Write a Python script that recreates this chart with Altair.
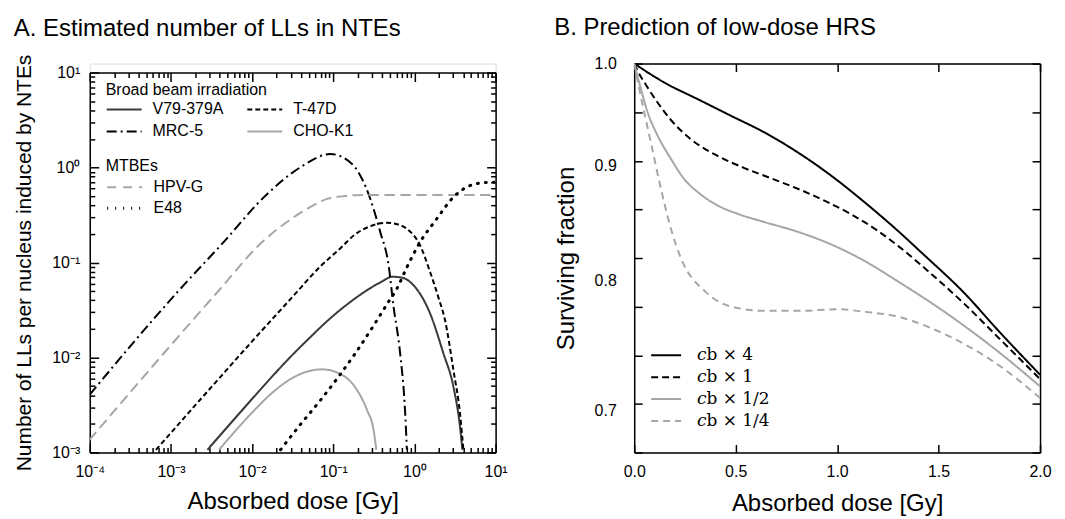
import altair as alt
import pandas as pd

FONT = "Liberation Sans"

# ---------------- Panel A: number of LLs per nucleus induced by NTEs ----------------
v79_dose = [2.818e-3, 6.310e-3, 0.01259, 0.02704, 0.05012, 0.1, 0.1778, 0.2858, 0.3981, 0.5272, 0.7079, 0.9750, 1.560, 2.275, 3.020, 3.639, 3.899]
v79_n = [1.067e-3, 2.344e-3, 4.571e-3, 9.333e-3, 0.01585, 0.02754, 0.04074, 0.05370, 0.06310, 0.07079, 0.06918, 0.05754, 0.02904, 0.01104, 4.932e-3, 1.875e-3, 1.067e-3]

t47d_dose = [6.531e-4, 3.162e-3, 0.01, 0.03162, 0.0695, 0.1259, 0.1786, 0.2818, 0.4581, 0.631, 0.8072, 1.175, 1.560, 1.995, 2.382, 3.020, 3.639, 4.009]
t47d_n = [1.067e-3, 4.898e-3, 0.01479, 0.04365, 0.09120, 0.1445, 0.1928, 0.2399, 0.2618, 0.2512, 0.2265, 0.1514, 0.07943, 0.04169, 0.02472, 7.379e-3, 2.588e-3, 1.067e-3]

mrc5_dose = [1e-4, 1.205e-3, 4.10e-3, 0.01538, 0.03945, 0.0920, 0.1702, 0.2858, 0.3793, 0.4808, 0.5534, 0.6668, 0.7691, 0.8072]
mrc5_n = [4.074e-3, 0.04898, 0.1517, 0.5272, 1.007, 1.387, 1.089, 0.4677, 0.2089, 0.09354, 0.03412, 0.01104, 2.588e-3, 1.074e-3]

chok1_dose = [3.917e-3, 0.01, 0.01778, 0.02704, 0.04335, 0.07278, 0.1222, 0.1959, 0.2600, 0.3162, 0.3388]
chok1_n = [1.067e-3, 2.630e-3, 4.266e-3, 5.623e-3, 6.918e-3, 7.499e-3, 6.699e-3, 4.550e-3, 2.805e-3, 1.660e-3, 1.067e-3]

hpvg_dose = [1e-4, 1e-3, 3.917e-3, 0.01274, 0.03273, 0.05623, 0.08395, 0.1413, 0.2371, 1.0, 10.0]
hpvg_n = [1.368e-3, 0.01349, 0.05105, 0.1585, 0.3006, 0.3981, 0.4677, 0.5012, 0.5152, 0.5152, 0.5152]

e48_dose = [0.02239, 0.03981, 0.0695, 0.1122, 0.1786, 0.3162, 0.4581, 0.6081, 0.8072, 1.175, 1.884, 3.020, 4.831, 7.079, 10.0]
e48_n = [1.067e-3, 1.995e-3, 3.548e-3, 6.026e-3, 0.01047, 0.02188, 0.03631, 0.05309, 0.08913, 0.1641, 0.2884, 0.4875, 0.6457, 0.6918, 0.6998]

broad_names = ["V79-379A", "MRC-5", "T-47D", "CHO-K1"]
broad_colors = ["#3a3a3a", "#000000", "#000000", "#a6a6a6"]
broad_dashes = [[1, 0], [10, 4, 2, 4], [5, 3], [1, 0]]
mtbe_names = ["HPV-G", "E48"]
mtbe_colors = ["#a6a6a6", "#000000"]
mtbe_dashes = [[9, 7], [1, 7]]
mtbe_widths = [2, 3]

xa_major = [1e-4, 1e-3, 1e-2, 1e-1, 1, 10]
ya_major = [1e-3, 1e-2, 1e-1, 1, 10]
xa_sup = ["\u207b\u2074", "\u207b\u00b3", "\u207b\u00b2", "\u207b\u00b9", "\u2070", "\u00b9"]
ya_sup = ["\u207b\u00b3", "\u207b\u00b2", "\u207b\u00b9", "\u2070", "\u00b9"]

# ---------------- Panel B: surviving fraction ----------------
sf_names = ["\U0001D450b \u00d7 4", "\U0001D450b \u00d7 1", "\U0001D450b \u00d7 1/2", "\U0001D450b \u00d7 1/4"]
sf_colors = ["#000000", "#000000", "#a6a6a6", "#a6a6a6"]
sf_dashes = [[1, 0], [7, 4], [1, 0], [7, 5]]

cb4_dose = [0, 0.148, 0.3125, 0.477, 0.641, 0.806, 0.970, 1.135, 1.299, 1.414, 1.631, 1.8, 2.0]
cb4_sf = [1.0, 0.9807, 0.9641, 0.9477, 0.9317, 0.9127, 0.8912, 0.8671, 0.8420, 0.8236, 0.7890, 0.7588, 0.7261]

cb1_dose = [0, 0.013, 0.066, 0.115, 0.181, 0.280, 0.411, 0.543, 0.674, 0.806, 0.9375, 1.069, 1.2, 1.303, 1.467, 1.631, 1.795, 2.0]
cb1_sf = [1.0, 0.9942, 0.9757, 0.9608, 0.9436, 0.9250, 0.9094, 0.8981, 0.8887, 0.8792, 0.8685, 0.8564, 0.8420, 0.8286, 0.8050, 0.7804, 0.7543, 0.7229]

cb12_dose = [0, 0.033, 0.066, 0.115, 0.181, 0.247, 0.3125, 0.411, 0.51, 0.641, 0.806, 0.970, 1.139, 1.303, 1.467, 1.631, 1.795, 2.0]
cb12_sf = [1.0, 0.9743, 0.9512, 0.9287, 0.9066, 0.8878, 0.8763, 0.8642, 0.8568, 0.8496, 0.8411, 0.8303, 0.8159, 0.7989, 0.7815, 0.7630, 0.7434, 0.7175]

cb14_dose = [0, 0.049, 0.082, 0.132, 0.181, 0.230, 0.352, 0.484, 0.648, 0.811, 1.0, 1.139, 1.303, 1.467, 1.631, 1.795, 2.0]
cb14_sf = [1.0, 0.9512, 0.9222, 0.8790, 0.8437, 0.8187, 0.7907, 0.7786, 0.7754, 0.7754, 0.7767, 0.7746, 0.7707, 0.7615, 0.7490, 0.7334, 0.7089]

xb_ticks = [0, 0.5, 1.0, 1.5, 2.0]
yb_labels = [0.7, 0.8, 0.9, 1.0]
yb_ticks = [1.0, 0.9512, 0.9048, 0.8607, 0.8187, 0.7788, 0.7408, 0.7047, 0.6703]

# ---------------- data frames ----------------
def frame(names, doses, vals, key, vkey):
    rows = []
    for name, ds, vs in zip(names, doses, vals):
        for i, (d, v) in enumerate(zip(ds, vs)):
            rows.append({"dose": d, vkey: v, key: name, "i": i})
    return pd.DataFrame(rows)

df_broad = frame(["V79-379A", "T-47D", "MRC-5", "CHO-K1"], [v79_dose, t47d_dose, mrc5_dose, chok1_dose],
                 [v79_n, t47d_n, mrc5_n, chok1_n], "cell", "n")
df_mtbe = frame(mtbe_names, [hpvg_dose, e48_dose], [hpvg_n, e48_n], "cell2", "n")
df_sf = frame(sf_names, [cb4_dose, cb1_dose, cb12_dose, cb14_dose],
              [cb4_sf, cb1_sf, cb12_sf, cb14_sf], "series", "sf")

# ---------------- helpers ----------------
WA, HA, TOPA = 407, 390, 9
WB, HB = 407, 390
LW = 1.5
B_OFFSET = 542  # horizontal distance between the two plot areas' left edges

MAJOR_TEST = "abs(log(datum.value)/LN10 - round(log(datum.value)/LN10)) < 0.01"
log_tick_size = {"condition": {"test": MAJOR_TEST, "value": 9}, "value": 5}


def tick_axis(orient, offset, values, size, domain):
    return alt.Axis(orient=orient, offset=offset, values=values, labels=False, ticks=True,
                    tickSize=size, tickColor="black", tickWidth=LW, domain=domain,
                    domainColor="black", domainWidth=LW, grid=False, title=None)


def log_minor(lo, hi):
    vals = []
    for k in range(lo, hi):
        for m in range(1, 10):
            vals.append(m * 10.0 ** k)
    vals.append(10.0 ** hi)
    return vals


xa_all = log_minor(-4, 1)
ya_all = log_minor(-3, 1)

xA = alt.Scale(type="log", domain=[1e-4, 10], nice=False)
yA = alt.Scale(type="log", domain=[1e-3, 10], nice=False, range=[HA, TOPA])

label_common = dict(labelFont=FONT, labelFontSize=16, labelColor="black", titleFont=FONT,
                    titleFontWeight="normal", titleColor="black", grid=False, ticks=False,
                    domain=True, domainColor="black", domainWidth=LW, labelFlush=False,
                    labelOverlap=False)

xa_label_axis = alt.Axis(orient="bottom", values=xa_major,
                         labelExpr="'10' + " + str(xa_sup) + "[round(log(datum.value)/LN10) + 4]",
                         labelPadding=11, title="Absorbed dose [Gy]", titleFontSize=24,
                         titlePadding=10, **label_common)
ya_label_axis = alt.Axis(orient="left", values=ya_major,
                         labelExpr="'10' + " + str(ya_sup) + "[round(log(datum.value)/LN10) + 3]",
                         labelPadding=10, title="Number of LLs per nucleus induced by NTEs",
                         titleFontSize=21, titlePadding=17, **label_common)

legend_common = dict(orient="none", symbolType="stroke", symbolStrokeWidth=2,
                     labelFont=FONT, labelFontSize=16, labelColor="black",
                     titleFont=FONT, titleFontSize=16, titleFontWeight="normal",
                     titleColor="black", labelOffset=10, padding=0, clipHeight=16,
                     symbolSize=1225)

leg_broad = alt.Legend(title="Broad beam irradiation", legendX=16, legendY=19, columns=2,
                       columnPadding=22, rowPadding=6, titlePadding=3, **legend_common)
leg_mtbe = alt.Legend(title="MTBEs", legendX=16, legendY=95, rowPadding=5, titlePadding=5,
                      **legend_common)

layer_a1 = alt.Chart(df_broad).mark_line(clip=True, strokeWidth=2, interpolate="monotone").encode(
    x=alt.X("dose:Q", scale=xA, axis=xa_label_axis),
    y=alt.Y("n:Q", scale=yA, axis=ya_label_axis),
    color=alt.Color("cell:N", scale=alt.Scale(domain=broad_names, range=broad_colors), legend=leg_broad),
    strokeDash=alt.StrokeDash("cell:N", scale=alt.Scale(domain=broad_names, range=broad_dashes), legend=leg_broad),
    order="i:Q",
)
layer_a2 = alt.Chart(df_mtbe).mark_line(clip=True, strokeCap="round", interpolate="monotone").encode(
    x=alt.X("dose:Q", scale=xA, axis=tick_axis("top", -HA, xa_all, log_tick_size, False)),
    y=alt.Y("n:Q", scale=yA, axis=tick_axis("right", -WA, ya_all, log_tick_size, False)),
    color=alt.Color("cell2:N", scale=alt.Scale(domain=mtbe_names, range=mtbe_colors), legend=leg_mtbe),
    strokeDash=alt.StrokeDash("cell2:N", scale=alt.Scale(domain=mtbe_names, range=mtbe_dashes), legend=leg_mtbe),
    strokeWidth=alt.StrokeWidth("cell2:N", scale=alt.Scale(domain=mtbe_names, range=mtbe_widths), legend=leg_mtbe),
    order="i:Q",
)
layer_a3 = alt.Chart(df_mtbe).mark_line(clip=True, strokeOpacity=0).encode(
    x=alt.X("dose:Q", scale=xA, axis=tick_axis("bottom", -(HA - TOPA), xa_all, log_tick_size, True)),
    y=alt.Y("n:Q", scale=yA, axis=tick_axis("left", -WA, ya_all, log_tick_size, True)),
    detail="cell2:N",
)

panel_a = alt.layer(layer_a1, layer_a2, layer_a3).resolve_scale(
    color="independent", strokeDash="independent", strokeWidth="independent"
).resolve_axis(x="independent", y="independent").properties(
    width=WA, height=HA,
    title=alt.TitleParams("A. Estimated number of LLs in NTEs", anchor="start", frame="bounds",
                          font=FONT, fontSize=24, fontWeight="normal", color="black", offset=13),
)

# ---------------- Panel B ----------------
xB = alt.Scale(domain=[0, 2], nice=False)
yB = alt.Scale(type="log", domain=[0.6703, 1.0], nice=False)

xb_label_axis = alt.Axis(orient="bottom", values=xb_ticks, format=".1f", labelPadding=11,
                         title="Absorbed dose [Gy]", titleFontSize=24, titlePadding=12,
                         **label_common)
yb_label_axis = alt.Axis(orient="left", values=yb_labels, format=".1f", labelPadding=18,
                         title="Surviving fraction", titleFontSize=24, titlePadding=16,
                         **label_common)

leg_sf = alt.Legend(title=None, orient="none", legendX=B_OFFSET + 20, legendY=284,
                    symbolType="stroke", symbolStrokeWidth=2, symbolSize=900, clipHeight=17,
                    labelFont="DejaVu Serif", labelFontSize=17, labelColor="black",
                    labelOffset=15, rowPadding=4, padding=0)

layer_b1 = alt.Chart(df_sf).mark_line(clip=True, strokeWidth=2, interpolate="monotone").encode(
    x=alt.X("dose:Q", scale=xB, axis=xb_label_axis),
    y=alt.Y("sf:Q", scale=yB, axis=yb_label_axis),
    color=alt.Color("series:N", scale=alt.Scale(domain=sf_names, range=sf_colors), legend=leg_sf),
    strokeDash=alt.StrokeDash("series:N", scale=alt.Scale(domain=sf_names, range=sf_dashes), legend=leg_sf),
    order="i:Q",
)
layer_b2 = alt.Chart(df_sf).mark_line(clip=True, strokeOpacity=0).encode(
    x=alt.X("dose:Q", scale=xB, axis=tick_axis("top", -HB, xb_ticks, 8, False)),
    y=alt.Y("sf:Q", scale=yB, axis=tick_axis("right", -WB, yb_ticks, 8, False)),
    detail="series:N",
)
layer_b3 = alt.Chart(df_sf).mark_line(clip=True, strokeOpacity=0).encode(
    x=alt.X("dose:Q", scale=xB, axis=tick_axis("bottom", -HB, xb_ticks, 8, True)),
    y=alt.Y("sf:Q", scale=yB, axis=tick_axis("left", -WB, yb_ticks, 8, True)),
    detail="series:N",
)

panel_b = alt.layer(layer_b1, layer_b2, layer_b3).resolve_axis(
    x="independent", y="independent"
).properties(
    width=WB, height=HB,
    title=alt.TitleParams("B. Prediction of low-dose HRS", anchor="start", frame="bounds",
                          font=FONT, fontSize=24, fontWeight="normal", color="black", offset=16),
)

chart = alt.hconcat(panel_a, panel_b, spacing=45).properties(
    padding={"left": 5, "top": 6, "right": 5, "bottom": 5}
).configure_view(stroke=None).configure(font=FONT)

chart.save("out.html", embed_options={"renderer": "svg", "actions": False})
